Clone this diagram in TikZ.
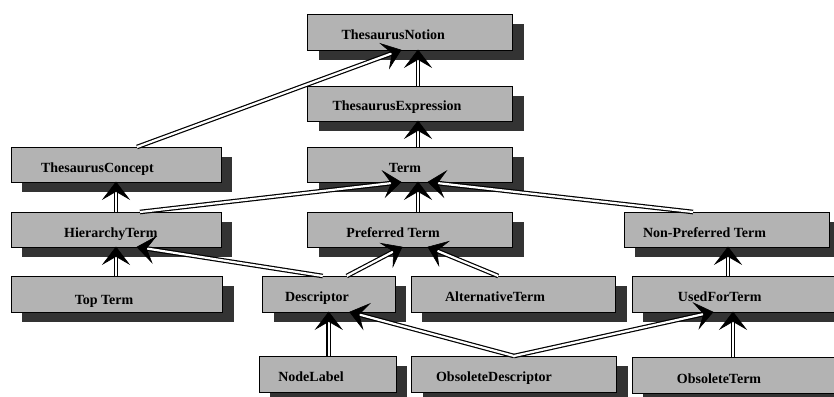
\documentclass[tikz,border=0pt]{standalone}
\usepackage{fontspec}
\setmainfont{Liberation Serif}
\usetikzlibrary{shadows}
\definecolor{boxgray}{RGB}{179,179,179}
\definecolor{shadowgray}{RGB}{51,51,51}
\newcommand\conn[2]{%
  \draw[dblline] #1 -- #2;
  \path #1 -- #2 pic[pos=1, sloped, allow upside down] {arrtip};}
\begin{document}
\begin{tikzpicture}[x=1pt,y=-1pt,
  box/.style={draw=black, line width=0.8pt, fill=boxgray, inner sep=0pt, outer sep=0pt,
    drop shadow={shadow xshift=11pt, shadow yshift=-10pt, fill=shadowgray, opacity=1}},
  lbl/.style={anchor=base, inner sep=0pt, font=\fontsize{14}{16}\selectfont\bfseries},
  dblline/.style={draw=black, line width=4.6pt, shorten >=8pt,
    postaction={draw=white, line width=2.2pt, shorten >=8pt}},
  arrtip/.pic={\filldraw[black, line width=0.6pt, line join=miter] (0,0) -- (-17,13) -- (-9.5,0) -- (-17,-13) -- cycle;}
]
\useasboundingbox (0,0) rectangle (834,396);
\clip (0,0) rectangle (834,396);

% boxes
\node[box, minimum width=205pt, minimum height=36pt] (TN) at (410,32) {};
\node[box, minimum width=205pt, minimum height=35pt] (TE) at (410,103.5) {};
\node[box, minimum width=210pt, minimum height=35pt] (TC) at (116,164.5) {};
\node[box, minimum width=205pt, minimum height=35pt] (Term) at (410,164.5) {};
\node[box, minimum width=210pt, minimum height=35pt] (HT) at (116,229.5) {};
\node[box, minimum width=205pt, minimum height=35pt] (PT) at (410,229.5) {};
\node[box, minimum width=205pt, minimum height=35pt] (NPT) at (726.5,229.5) {};
\node[box, minimum width=211.5pt, minimum height=36pt] (TT) at (116.75,294) {};
\node[box, minimum width=132.5pt, minimum height=36pt] (Desc) at (328.75,294) {};
\node[box, minimum width=204.5pt, minimum height=36pt] (AltT) at (513.25,294) {};
\node[box, minimum width=202pt, minimum height=36pt] (UFT) at (733,294) {};
\node[box, minimum width=137pt, minimum height=36pt] (NL) at (327.5,374) {};
\node[box, minimum width=205pt, minimum height=36pt] (OD) at (514,374) {};
\node[box, minimum width=202pt, minimum height=36pt] (OT) at (733,375) {};

% labels
\node[lbl] (lTN) at (393.3,40) {ThesaurusNotion};
\node[lbl] (lTE) at (397,110) {ThesaurusExpression};
\node[lbl] (lTC) at (97.5,172) {ThesaurusConcept};
\node[lbl] (lTerm) at (405,172) {Term};
\node[lbl] (lHT) at (110.8,237) {HierarchyTerm};
\node[lbl] (lPT) at (393,237) {Preferred Term};
\node[lbl] (lNPT) at (704.5,237) {Non-Preferred Term};
\node[lbl] (lTT) at (104,304.5) {Top Term};
\node[lbl] (lDesc) at (317,301) {Descriptor};
\node[lbl] (lAltT) at (495,301) {AlternativeTerm};
\node[lbl] (lUFT) at (719.7,301) {UsedForTerm};
\node[lbl] (lNL) at (311,381) {NodeLabel};
\node[lbl] (lOD) at (494,381) {ObsoleteDescriptor};
\node[lbl] (lOT) at (719,383) {ObsoleteTerm};

% connectors
\conn{([xshift=8pt]TE.north)}{([xshift=8pt]TN.south)}
\conn{([xshift=21pt]TC.north)}{([xshift=-9pt]TN.south)}
\conn{([xshift=8pt]Term.north)}{([xshift=8pt]TE.south)}
\conn{(HT.north)}{(TC.south)}
\conn{([xshift=24pt]HT.north)}{([xshift=-9pt]Term.south)}
\conn{([xshift=8pt]PT.north)}{([xshift=8pt]Term.south)}
\conn{([xshift=-33.5pt]NPT.north)}{([xshift=18pt]Term.south)}
\conn{([xshift=-0.75pt]TT.north)}{(HT.south)}
\conn{([xshift=-6pt]Desc.north)}{([xshift=21pt]HT.south)}
\conn{([xshift=18pt]Desc.north)}{([xshift=-8pt]PT.south)}
\conn{([xshift=-15pt]AltT.north)}{([xshift=18pt]PT.south)}
\conn{([xshift=-5pt]UFT.north)}{([xshift=1.5pt]NPT.south)}
\conn{([xshift=1.25pt]NL.north)}{(Desc.south)}
\conn{(OD.north)}{([xshift=21pt]Desc.south)}
\conn{(OD.north)}{([xshift=-20pt]UFT.south)}
\conn{(OT.north)}{(UFT.south)}
\end{tikzpicture}
\end{document}
